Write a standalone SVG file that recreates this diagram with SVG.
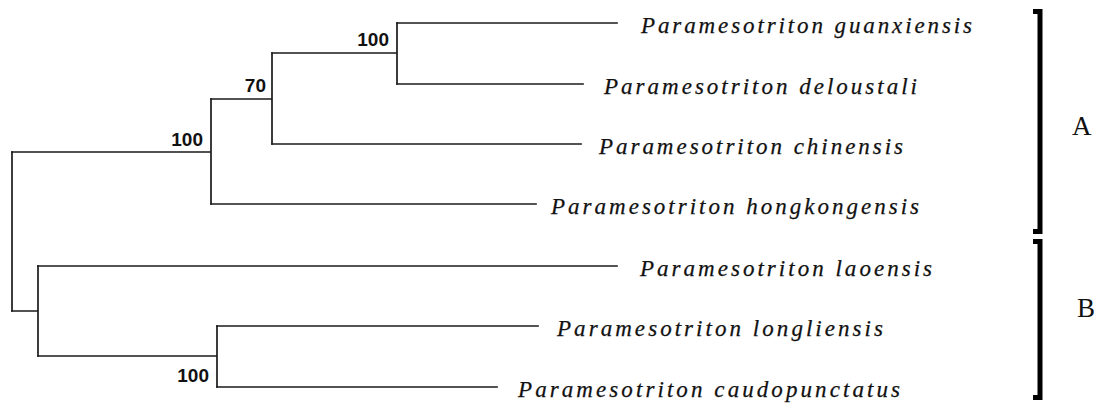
<svg xmlns="http://www.w3.org/2000/svg" width="1094" height="403" viewBox="0 0 1094 403">
<style>
.br{fill:none;stroke:#1a1a1a;stroke-width:1.7;stroke-linecap:square}
.bk{fill:none;stroke:#000;stroke-width:5;stroke-linejoin:miter;stroke-linecap:butt}
.tx{font-family:"Liberation Serif",serif;font-style:italic;font-size:23px;fill:#111;stroke:#111;stroke-width:0.25}
.bs{font-family:"Liberation Sans",Arial,sans-serif;font-weight:bold;font-size:19px;fill:#111;text-anchor:end}
.cl{font-family:"Liberation Serif",serif;font-size:27px;fill:#111}
</style>
<rect width="1094" height="403" fill="#fff"/>
<g id="connectors">
<path class="br" d="M12,152 V311"/>
<path class="br" d="M12,152 H211 M211,99 V204"/>
<path class="br" d="M211,99 H272 M272,53 V144"/>
<path class="br" d="M272,53 H397 M397,23 V84"/>
<path class="br" d="M397,23 H617"/>
<path class="br" d="M397,84 H583"/>
<path class="br" d="M272,144 H581"/>
<path class="br" d="M211,204 H536"/>
<path class="br" d="M12,311 H38 M38,266 V356"/>
<path class="br" d="M38,266 H617"/>
<path class="br" d="M38,356 H217 M217,326 V387"/>
<path class="br" d="M217,326 H538"/>
<path class="br" d="M217,387 H497"/>
</g>
<g id="support">
<text class="bs" x="389" y="46">100</text>
<text class="bs" x="266" y="92">70</text>
<text class="bs" x="203" y="146">100</text>
<text class="bs" x="209" y="382">100</text>
</g>
<g id="taxon-guanxiensis"><text class="tx" x="641" y="33" textLength="331" lengthAdjust="spacing">Paramesotriton guanxiensis</text></g>
<g id="taxon-deloustali"><text class="tx" x="604" y="94" textLength="313" lengthAdjust="spacing">Paramesotriton deloustali</text></g>
<g id="taxon-chinensis"><text class="tx" x="599" y="154" textLength="304" lengthAdjust="spacing">Paramesotriton chinensis</text></g>
<g id="taxon-hongkongensis"><text class="tx" x="551" y="214" textLength="368" lengthAdjust="spacing">Paramesotriton hongkongensis</text></g>
<g id="taxon-laoensis"><text class="tx" x="640" y="276" textLength="292" lengthAdjust="spacing">Paramesotriton laoensis</text></g>
<g id="taxon-longliensis"><text class="tx" x="557" y="336" textLength="326" lengthAdjust="spacing">Paramesotriton longliensis</text></g>
<g id="taxon-caudopunctatus"><text class="tx" x="518" y="397" textLength="382" lengthAdjust="spacing">Paramesotriton caudopunctatus</text></g>
<g id="clade-A">
<path class="bk" d="M1033,11.5 H1040 V231.5 H1033"/>
<text class="cl" x="1072" y="135">A</text>
</g>
<g id="clade-B">
<path class="bk" d="M1033,241.5 H1040 V397.5 H1033"/>
<text class="cl" x="1077" y="317">B</text>
</g>
</svg>
